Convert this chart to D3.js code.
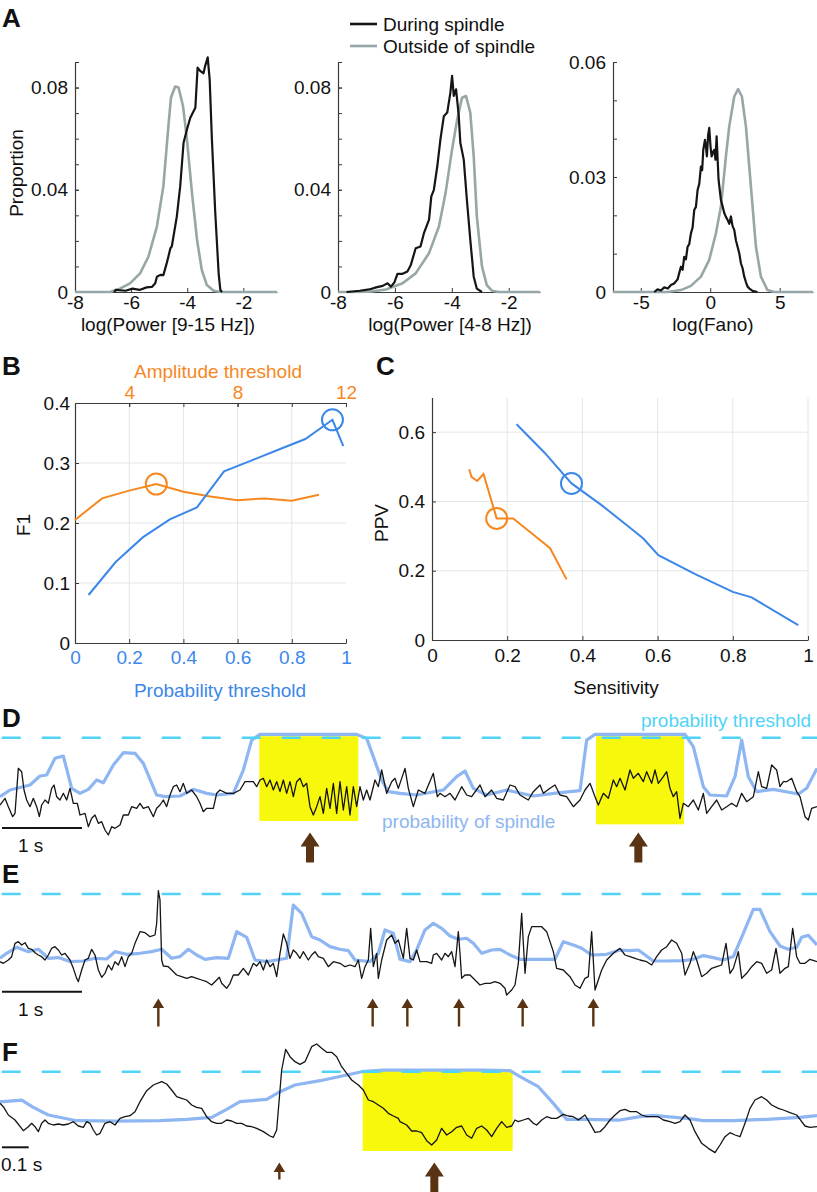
<!DOCTYPE html>
<html>
<head>
<meta charset="utf-8">
<script src="https://cdn.jsdelivr.net/npm/d3@7"></script>
<style>
  body { margin: 0; background: #fff; }
  svg { display: block; }
  text { font-family: 'Liberation Sans', Arial, Helvetica, sans-serif; }
</style>
</head>
<body>
<svg id="fig" width="817" height="1192"></svg>
<script>
// ---------- data: panel A histograms [log value, proportion] ----------
var powSpindleDuring = [[-6.6,0],[-6.55,0.0008],[-6.2,0.0005],[-5.95,0.0013],[-5.7,0.0008],[-5.45,0.0018],[-5.26,0.002],[-5.14,0.0034],[-5.08,0.006],[-4.96,0.0067],[-4.85,0.0066],[-4.73,0.0113],[-4.67,0.0139],[-4.6,0.0171],[-4.55,0.0178],[-4.49,0.0217],[-4.37,0.0296],[-4.25,0.0414],[-4.13,0.0584],[-4.01,0.0636],[-3.89,0.0682],[-3.71,0.0721],[-3.63,0.0878],[-3.54,0.0865],[-3.42,0.0856],[-3.36,0.0885],[-3.27,0.0918],[-3.2,0.0832],[-3.12,0.0597],[-3.0,0.0309],[-2.88,0.0073],[-2.82,0.0008],[-2.76,0]];
var powSpindleOutside = [[-8,0],[-6.75,0],[-6.4,0.0013],[-6.04,0.0034],[-5.68,0.0073],[-5.38,0.0139],[-5.08,0.0257],[-4.85,0.0414],[-4.67,0.065],[-4.58,0.076],[-4.43,0.0804],[-4.31,0.080],[-4.15,0.0728],[-4.01,0.0597],[-3.83,0.0387],[-3.65,0.0204],[-3.48,0.0086],[-3.3,0.0027],[-3.06,0.0005],[-2.8,0],[-0.8,0]];

var powThetaDuring = [[-7.7,0],[-7.59,0.0001],[-7.24,0.0005],[-6.9,0.001],[-6.66,0.0018],[-6.43,0.0024],[-6.26,0.0034],[-6.14,0.0021],[-6.02,0.0037],[-5.91,0.0071],[-5.73,0.0071],[-5.56,0.008],[-5.44,0.0106],[-5.27,0.0171],[-5.1,0.0178],[-4.98,0.023],[-4.8,0.0283],[-4.72,0.0374],[-4.63,0.04],[-4.51,0.0492],[-4.4,0.0597],[-4.28,0.0688],[-4.16,0.0702],[-4.05,0.078],[-3.99,0.0846],[-3.93,0.0767],[-3.85,0.0793],[-3.76,0.0695],[-3.7,0.0584],[-3.58,0.0518],[-3.47,0.0361],[-3.35,0.0204],[-3.23,0.006],[-3.12,0.0013],[-2.94,0]];
var powThetaOutside = [[-8,0],[-6.9,0.0001],[-6.31,0.001],[-5.73,0.0034],[-5.27,0.0073],[-4.8,0.0152],[-4.45,0.0257],[-4.22,0.0387],[-3.99,0.0558],[-3.81,0.0675],[-3.64,0.076],[-3.5,0.0767],[-3.35,0.0702],[-3.23,0.0531],[-3.12,0.0296],[-2.94,0.01],[-2.77,0.0027],[-2.59,0.0005],[-2.35,0],[-0.9,0]];

var fanoDuring = [[-4.03,0],[-3.79,0.0007],[-3.55,0.0004],[-3.31,0.0012],[-3.05,0.0009],[-2.83,0.0018],[-2.6,0.0022],[-2.35,0.0033],[-2.11,0.0066],[-1.99,0.0058],[-1.87,0.0092],[-1.75,0.0085],[-1.63,0.0118],[-1.51,0.0125],[-1.39,0.0153],[-1.27,0.0168],[-1.15,0.0214],[-1.03,0.0222],[-0.91,0.0266],[-0.79,0.0282],[-0.67,0.0327],[-0.58,0.0318],[-0.5,0.0371],[-0.38,0.0397],[-0.3,0.0376],[-0.24,0.0354],[-0.15,0.041],[-0.07,0.0428],[0.02,0.038],[0.1,0.0354],[0.2,0.0365],[0.29,0.0371],[0.38,0.0345],[0.46,0.0406],[0.6,0.0293],[0.77,0.024],[0.9,0.0222],[1.01,0.0206],[1.13,0.0196],[1.25,0.0188],[1.37,0.0178],[1.49,0.0197],[1.61,0.0172],[1.73,0.0162],[1.85,0.0135],[1.97,0.0118],[2.09,0.0101],[2.21,0.0075],[2.33,0.0062],[2.45,0.004],[2.57,0.0026],[2.69,0.0014],[2.85,0.0008],[3.05,0.0003],[3.4,0]];
var fanoOutside = [[-7,0],[-3.07,0],[-2.11,0.0005],[-1.39,0.0016],[-0.67,0.004],[-0.07,0.0084],[0.41,0.0153],[0.77,0.0223],[1.13,0.0354],[1.37,0.0432],[1.73,0.051],[2.01,0.0529],[2.28,0.051],[2.57,0.0432],[2.93,0.0275],[3.29,0.0118],[3.65,0.004],[4.12,0.0005],[4.6,0],[7.4,0]];

// ---------- data: panel B ----------
var ampThresholds = [2, 3, 4, 5, 6, 7, 8, 9, 10, 11];
var ampF1 = [0.205, 0.241, 0.254, 0.265, 0.252, 0.244, 0.238, 0.241, 0.237, 0.247];
var probThresholds = [0.05, 0.15, 0.25, 0.35, 0.45, 0.55, 0.65, 0.75, 0.85, 0.95, 0.99];
var probF1 = [0.08, 0.135, 0.176, 0.206, 0.226, 0.286, 0.304, 0.322, 0.34, 0.372, 0.328];
var ampBest = 3, probBest = 9;

// ---------- data: panel C ----------
var ampSens = [0.099, 0.105, 0.12, 0.137, 0.172, 0.216, 0.265, 0.314, 0.358];
var ampPPV = [0.493, 0.471, 0.459, 0.479, 0.351, 0.351, 0.308, 0.265, 0.175];
var probSens = [0.225, 0.30, 0.371, 0.45, 0.52, 0.562, 0.602, 0.70, 0.80, 0.85, 0.974];
var probPPV = [0.623, 0.54, 0.452, 0.39, 0.33, 0.293, 0.245, 0.19, 0.139, 0.123, 0.043];
var ampBestC = 4, probBestC = 2;

// ---------- data: example traces, [sample, value] ----------
var FS_LONG = 240, FS_SHORT = 800, N_SAMPLES = 2451, PROB_THR = 0.9;

var eegD = [[0,-15],[15,5],[25,-20],[38,-50],[45,-40],[55,95],[65,85],[72,30],[80,0],[90,-20],[100,5],[110,-20],[118,-50],[125,-15],[135,0],[145,-10],[155,35],[162,45],[170,10],[180,0],[190,20],[200,0],[210,35],[220,-10],[232,-10],[240,-45],[255,-40],[265,-80],[275,-55],[285,-45],[295,-70],[305,-65],[315,-90],[325,-105],[335,-80],[345,-85],[360,-75],[370,-45],[385,-45],[395,-20],[410,-25],[420,-10],[430,-25],[445,-20],[460,-50],[470,-25],[480,-15],[490,0],[500,-20],[510,15],[520,40],[530,45],[540,25],[550,50],[560,20],[575,30],[590,10],[600,-10],[610,-35],[620,-25],[640,-25],[650,20],[660,30],[680,20],[700,20],[720,30],[735,55],[760,55],[770,40],[780,60],[790,65],[800,40],[810,60],[820,30],[830,55],[840,25],[850,60],[860,20],[870,55],[880,10],[890,55],[900,65],[910,40],[920,50],[930,-20],[940,-45],[950,-20],[960,10],[970,-40],[980,35],[990,-25],[1000,50],[1010,-40],[1020,55],[1030,-30],[1040,40],[1050,-45],[1060,40],[1070,-20],[1080,40],[1090,0],[1100,30],[1110,0],[1125,60],[1135,40],[1145,90],[1160,20],[1175,55],[1185,65],[1195,35],[1215,95],[1225,35],[1240,-20],[1255,30],[1275,20],[1300,80],[1312,10],[1320,20],[1335,10],[1350,20],[1365,0],[1385,40],[1400,15],[1415,10],[1440,45],[1455,10],[1475,30],[1490,5],[1510,0],[1530,45],[1545,40],[1560,15],[1585,0],[1600,25],[1620,45],[1630,20],[1650,35],[1665,45],[1680,15],[1700,10],[1720,-20],[1740,0],[1755,30],[1770,50],[1785,10],[1795,-15],[1810,20],[1825,5],[1840,60],[1850,40],[1860,65],[1875,30],[1890,90],[1900,65],[1915,80],[1930,55],[1940,85],[1955,50],[1965,90],[1975,50],[1990,70],[2000,85],[2010,35],[2020,10],[2030,25],[2040,-55],[2050,-10],[2065,-20],[2080,0],[2095,-30],[2110,20],[2120,-40],[2135,-20],[2150,0],[2165,-30],[2180,-20],[2195,-10],[2210,-20],[2225,20],[2240,-5],[2260,10],[2275,85],[2285,40],[2300,35],[2315,105],[2330,90],[2340,40],[2350,55],[2360,55],[2375,65],[2390,25],[2400,10],[2415,-50],[2425,-60],[2435,-25],[2451,-20]];
var probD = [[0,0.048],[30,0.144],[90,0.217],[120,0.347],[140,0.361],[165,0.602],[190,0.635],[215,0.168],[240,0.096],[265,0.154],[290,0.289],[310,0.250],[340,0.505],[370,0.683],[405,0.674],[430,0.529],[470,0.072],[495,0.048],[540,0.058],[580,0.154],[620,0.096],[650,0.072],[700,0.096],[730,0.433],[755,0.866],[780,0.948],[1070,0.948],[1100,0.890],[1120,0.626],[1145,0.289],[1165,0.120],[1200,0.096],[1250,0.072],[1330,0.144],[1370,0.337],[1395,0.419],[1420,0.168],[1460,0.072],[1520,0.144],[1600,0.058],[1680,0.106],[1740,0.135],[1760,0.866],[1785,0.948],[2055,0.948],[2080,0.770],[2110,0.193],[2130,0.072],[2180,0.058],[2205,0.337],[2225,0.866],[2245,0.337],[2270,0.120],[2320,0.154],[2395,0.087],[2420,0.169],[2451,0.457]];
var spindlesD = [[778,1075],[1788,2052]];
var arrowsD = [930,1915];

var eegE = [[0,-5],[10,-10],[25,0],[35,10],[45,50],[55,55],[65,45],[75,52],[85,35],[95,32],[105,22],[115,15],[125,10],[135,0],[145,15],[155,35],[165,40],[175,30],[185,15],[195,20],[210,0],[220,-25],[230,-55],[235,-65],[245,-30],[255,0],[265,5],[275,32],[285,15],[295,-30],[305,-52],[315,-40],[325,-15],[335,-30],[345,-5],[355,-15],[365,10],[375,-20],[385,10],[395,20],[405,50],[420,85],[435,82],[450,70],[465,75],[470,110],[475,208],[480,180],[485,0],[490,-18],[505,-20],[515,-30],[530,-45],[545,-50],[560,-55],[575,-50],[590,-55],[605,-60],[620,-65],[635,-75],[650,-60],[658,-52],[665,-70],[680,-85],[690,-70],[700,-45],[715,-45],[730,-25],[745,-45],[760,-10],[770,-18],[780,-5],[790,-30],[800,0],[810,-20],[820,-10],[830,-50],[840,20],[850,78],[860,50],[870,5],[880,30],[890,20],[900,5],[910,25],[925,0],[935,15],[945,25],[955,10],[970,5],[985,-20],[1000,-5],[1020,-10],[1035,-20],[1050,-15],[1065,-20],[1075,0],[1085,-55],[1095,-20],[1105,0],[1112,95],[1120,-20],[1130,20],[1135,-55],[1145,0],[1160,60],[1175,75],[1185,50],[1195,60],[1210,5],[1220,95],[1230,5],[1240,0],[1250,30],[1260,-5],[1280,-5],[1295,-10],[1300,15],[1310,20],[1325,0],[1335,20],[1345,10],[1355,25],[1365,-20],[1375,85],[1380,20],[1385,-55],[1395,-45],[1410,-45],[1425,-60],[1440,-75],[1455,-70],[1470,-70],[1485,-65],[1500,-70],[1515,-85],[1520,-105],[1535,-90],[1545,-75],[1555,-10],[1565,140],[1575,-40],[1585,70],[1595,100],[1610,100],[1625,100],[1640,85],[1650,55],[1660,25],[1670,-25],[1690,-30],[1710,-50],[1725,-75],[1740,-85],[1755,-55],[1765,-50],[1775,85],[1785,-90],[1795,-60],[1805,-30],[1820,0],[1840,20],[1860,35],[1875,15],[1890,10],[1905,5],[1920,0],[1940,-5],[1955,-15],[1970,10],[1985,30],[2000,40],[2015,60],[2030,50],[2045,20],[2055,-45],[2070,-10],[2080,25],[2090,0],[2105,-50],[2120,-40],[2135,-25],[2150,-20],[2165,-15],[2178,50],[2190,-40],[2200,-25],[2215,25],[2225,-55],[2240,-40],[2255,-20],[2270,-5],[2285,-10],[2300,-40],[2315,-30],[2328,35],[2340,-40],[2355,-25],[2365,-20],[2378,95],[2390,10],[2400,-10],[2415,-10],[2430,2],[2451,-5]];
var probE = [[0,0.065],[20,0.130],[50,0.208],[85,0.151],[115,0.182],[145,0.065],[175,0.074],[210,0.022],[250,0.030],[285,0.065],[320,0.056],[345,0.151],[380,0.117],[420,0.130],[455,0.151],[485,0.182],[515,0.065],[540,0.087],[565,0.182],[590,0.108],[615,0.052],[650,0.074],[685,0.065],[710,0.411],[740,0.338],[765,0.043],[800,0.022],[830,0.043],[860,0.065],[880,0.757],[905,0.649],[935,0.346],[960,0.303],[990,0.216],[1020,0.182],[1045,0.164],[1065,0.043],[1110,0.022],[1135,0.130],[1155,0.433],[1180,0.389],[1200,0.052],[1230,0.022],[1250,0.173],[1275,0.433],[1300,0.519],[1325,0.454],[1350,0.355],[1375,0.312],[1400,0.325],[1420,0.260],[1445,0.130],[1475,0.173],[1500,0.182],[1530,0.108],[1560,0.052],[1600,0.052],[1665,0.052],[1690,0.281],[1720,0.238],[1745,0.195],[1775,0.108],[1820,0.117],[1860,0.173],[1890,0.164],[1915,0.173],[1960,0.030],[2000,0.030],[2050,0.035],[2080,0.052],[2110,0.100],[2140,0.074],[2170,0.043],[2200,0.087],[2230,0.389],[2260,0.701],[2280,0.701],[2310,0.411],[2340,0.225],[2365,0.182],[2390,0.208],[2405,0.338],[2425,0.363],[2451,0.238]];
var arrowsE = [475,1118,1222,1377,1568,1780];

var eegF = [[0,50],[10,40],[25,15],[45,0],[70,-32],[85,-20],[95,-10],[105,-20],[115,-35],[125,-10],[135,0],[145,-10],[160,-15],[175,-12],[190,-15],[205,-12],[220,-5],[235,-18],[250,-22],[260,-5],[270,-10],[280,-30],[290,-45],[300,-40],[315,-10],[330,-5],[345,-15],[360,5],[375,10],[390,13],[405,25],[420,55],[440,88],[460,105],[485,115],[500,108],[515,90],[530,70],[545,65],[560,60],[575,45],[590,38],[605,35],[620,10],[635,-5],[650,-10],[665,-10],[680,0],[695,-3],[710,-10],[725,-10],[740,-18],[755,-20],[770,-25],[790,-35],[810,-48],[820,-52],[830,-30],[845,150],[857,212],[870,190],[885,175],[900,167],[915,175],[935,220],[950,228],[965,215],[980,203],[995,203],[1010,190],[1025,160],[1040,140],[1055,120],[1075,105],[1090,90],[1105,60],[1120,55],[1135,45],[1150,35],[1165,20],[1180,12],[1195,5],[1200,-5],[1220,-15],[1235,-33],[1250,-33],[1265,-38],[1280,-62],[1295,-75],[1310,-60],[1325,-25],[1340,-45],[1355,-35],[1370,-22],[1385,-18],[1400,-45],[1415,-55],[1430,-25],[1445,-18],[1460,-30],[1475,-50],[1490,-25],[1505,-5],[1520,-22],[1535,-18],[1545,0],[1555,-5],[1570,0],[1585,5],[1600,-10],[1610,-15],[1625,0],[1640,10],[1655,5],[1670,5],[1690,17],[1705,12],[1720,10],[1735,0],[1755,15],[1770,-10],[1785,-37],[1800,-35],[1815,-20],[1830,0],[1845,15],[1860,28],[1875,32],[1890,25],[1910,25],[1925,15],[1940,10],[1960,10],[1975,10],[1990,0],[2010,-5],[2025,-10],[2040,-5],[2055,15],[2070,0],[2085,-35],[2105,-70],[2125,-85],[2145,-98],[2160,-75],[2175,-50],[2190,-38],[2205,-45],[2220,-50],[2235,-10],[2250,35],[2265,60],[2285,70],[2300,60],[2315,45],[2335,35],[2350,30],[2370,22],[2390,15],[2400,2],[2415,-18],[2430,-22],[2451,-20]];
var probF = [[0,0.36],[10,0.36],[65,0.39],[100,0.258],[145,0.12],[230,0.018],[350,0.012],[480,0.018],[560,0.042],[635,0.078],[680,0.222],[720,0.36],[800,0.402],[840,0.54],[885,0.66],[960,0.738],[1040,0.84],[1085,0.9],[1150,0.93],[1300,0.93],[1450,0.93],[1530,0.918],[1560,0.81],[1615,0.63],[1660,0.33],[1700,0.042],[1760,0.042],[1860,0.03],[1920,0.09],[1960,0.114],[2000,0.09],[2060,0.06],[2110,0.018],[2200,0.018],[2300,0.042],[2400,0.078],[2451,0.108]];
var spindlesF = [[1088,1538]];
var arrowsFsmall = [838];
var arrowsFbig = [1303];

// ---------- colours ----------
var BLACK = "#151515", GREY = "#97a6a7", ORANGE = "#f7881f", BLUE = "#3b87ea",
    PROB = "#8db6f2", CYAN = "#4fd3f7", YELLOW = "#f8f80d", BROWN = "#5a3412",
    AXIS = "#3a3a3a", GRID = "#e3e6e6";

var svg = d3.select("#fig");
svg.append("rect").attr("width", 817).attr("height", 1192).attr("fill", "#fff");

function letter(t, x, y) {
  svg.append("text").attr("x", x).attr("y", y).attr("font-size", 26)
    .attr("font-weight", "bold").attr("fill", "#111").text(t);
}

function styleAxis(g, color) {
  g.select(".domain").attr("stroke", AXIS).attr("stroke-width", 1.2);
  g.selectAll(".tick line").attr("stroke", AXIS);
  g.selectAll(".tick text").attr("font-size", 19).attr("fill", color || "#111")
    .attr("font-family", "'Liberation Sans', Arial, sans-serif");
}

// ---------- panel A ----------
var A_TOP = 62, A_BOTTOM = 292;
function histPanel(o) {
  var x = d3.scaleLinear().domain(o.xDomain).range([o.left, o.right]);
  var y = d3.scaleLinear().domain(o.yDomain).range([A_BOTTOM, A_TOP]);
  var g = svg.append("g");

  var ya = g.append("g").attr("transform", "translate(" + o.left + ",0)")
    .call(d3.axisLeft(y).tickValues(o.yTicks).tickFormat(d3.format("")).tickSize(-4).tickSizeOuter(0).tickPadding(7));
  styleAxis(ya);
  var ym = g.append("g").attr("transform", "translate(" + o.left + ",0)")
    .call(d3.axisLeft(y).tickValues(d3.range(0, o.yDomain[1] + 1e-9, 0.01)).tickFormat("").tickSize(-4).tickSizeOuter(0));
  ym.select(".domain").remove();
  ym.selectAll(".tick line").attr("stroke", AXIS);

  var xa = g.append("g").attr("transform", "translate(0," + A_BOTTOM + ")")
    .call(d3.axisBottom(x).tickValues(o.xTicks).tickFormat(d3.format("")).tickSize(-4).tickSizeOuter(0).tickPadding(3));
  styleAxis(xa);
  xa.selectAll(".tick text").text(function (d) { return String(d); });

  var line = d3.line().x(function (d) { return x(d[0]); }).y(function (d) { return y(d[1]); });
  g.append("path").datum(o.outside).attr("d", line).attr("fill", "none")
    .attr("stroke", GREY).attr("stroke-width", 2.6).attr("stroke-linejoin", "round");
  g.append("path").datum(o.during).attr("d", line).attr("fill", "none")
    .attr("stroke", BLACK).attr("stroke-width", 2.2).attr("stroke-linejoin", "round");

  g.append("text").attr("x", o.labelX).attr("y", 331).attr("text-anchor", "middle")
    .attr("font-size", 19).attr("fill", "#111").text(o.label);
}

histPanel({ xDomain: [-8, -0.8], left: 75, right: 277, yDomain: [0, 0.09],
  yTicks: [0, 0.04, 0.08], xTicks: [-8, -6, -4, -2],
  during: powSpindleDuring, outside: powSpindleOutside,
  label: "log(Power [9-15 Hz])", labelX: 168 });
histPanel({ xDomain: [-8, -0.9], left: 338, right: 540, yDomain: [0, 0.09],
  yTicks: [0, 0.04, 0.08], xTicks: [-8, -6, -4, -2],
  during: powThetaDuring, outside: powThetaOutside,
  label: "log(Power [4-8 Hz])", labelX: 450 });
histPanel({ xDomain: [-7, 7.4], left: 613, right: 813, yDomain: [0, 0.06],
  yTicks: [0, 0.03, 0.06], xTicks: [-5, 0, 5],
  during: fanoDuring, outside: fanoOutside,
  label: "log(Fano)", labelX: 713 });

svg.append("text").attr("transform", "translate(23,173) rotate(-90)")
  .attr("text-anchor", "middle").attr("font-size", 19).attr("fill", "#111").text("Proportion");

// legend
[["During spindle", BLACK, 24], ["Outside of spindle", GREY, 46]].forEach(function (l) {
  svg.append("line").attr("x1", 350).attr("x2", 377).attr("y1", l[2]).attr("y2", l[2])
    .attr("stroke", l[1]).attr("stroke-width", 2.6);
  svg.append("text").attr("x", 383).attr("y", l[2] + 7).attr("font-size", 19)
    .attr("fill", "#111").text(l[0]);
});
letter("A", 2, 27);

// ---------- panel B ----------
(function () {
  var x = d3.scaleLinear().domain([0, 1]).range([75, 346]);
  var xAmp = d3.scaleLinear().domain([2, 12]).range([75, 346]);
  var y = d3.scaleLinear().domain([0, 0.4]).range([643, 403]);
  var g = svg.append("g");

  g.selectAll(".gx").data([0.2, 0.4, 0.6, 0.8]).enter().append("line")
    .attr("x1", x).attr("x2", x).attr("y1", y(0)).attr("y2", y(0.4))
    .attr("stroke", GRID).attr("stroke-width", 1);
  g.selectAll(".gy").data([0.1, 0.2, 0.3]).enter().append("line")
    .attr("x1", x(0)).attr("x2", x(1)).attr("y1", y).attr("y2", y)
    .attr("stroke", GRID).attr("stroke-width", 1);

  var yl = g.append("g").attr("transform", "translate(75,0)")
    .call(d3.axisLeft(y).tickValues([0, 0.1, 0.2, 0.3, 0.4]).tickFormat(d3.format("")).tickSize(-4).tickSizeOuter(0).tickPadding(5));
  styleAxis(yl);
  var xb = g.append("g").attr("transform", "translate(0,643)")
    .call(d3.axisBottom(x).tickValues([0, 0.2, 0.4, 0.6, 0.8, 1]).tickFormat(d3.format("")).tickSize(-4).tickSizeOuter(0).tickPadding(8));
  styleAxis(xb, BLUE);
  var xt = g.append("g").attr("transform", "translate(0,403)")
    .call(d3.axisTop(xAmp).tickValues([4, 8, 12]).tickSize(-4).tickSizeOuter(0).tickPadding(4));
  styleAxis(xt, ORANGE);
  var xt2 = g.append("g").attr("transform", "translate(0,403)")
    .call(d3.axisTop(x).tickValues([0.2, 0.4, 0.6, 0.8, 1]).tickFormat("").tickSize(-4).tickSizeOuter(0));
  xt2.select(".domain").remove();
  xt2.selectAll(".tick line").attr("stroke", AXIS);

  var ampPts = ampThresholds.map(function (a, i) { return [xAmp(a), y(ampF1[i])]; });
  var probPts = probThresholds.map(function (p, i) { return [x(p), y(probF1[i])]; });
  var line = d3.line();
  g.append("path").attr("d", line(ampPts)).attr("fill", "none").attr("stroke", ORANGE).attr("stroke-width", 2);
  g.append("path").attr("d", line(probPts)).attr("fill", "none").attr("stroke", BLUE).attr("stroke-width", 2);
  g.append("circle").attr("cx", ampPts[ampBest][0]).attr("cy", ampPts[ampBest][1]).attr("r", 10.5)
    .attr("fill", "none").attr("stroke", ORANGE).attr("stroke-width", 2);
  g.append("circle").attr("cx", probPts[probBest][0]).attr("cy", probPts[probBest][1]).attr("r", 10.5)
    .attr("fill", "none").attr("stroke", BLUE).attr("stroke-width", 2);

  g.append("text").attr("x", 218).attr("y", 378).attr("text-anchor", "middle")
    .attr("font-size", 19).attr("fill", ORANGE).text("Amplitude threshold");
  g.append("text").attr("x", 220).attr("y", 697).attr("text-anchor", "middle")
    .attr("font-size", 19).attr("fill", BLUE).text("Probability threshold");
  g.append("text").attr("transform", "translate(30,525) rotate(-90)").attr("text-anchor", "middle")
    .attr("font-size", 19).attr("fill", "#111").text("F1");
})();
letter("B", 2, 375);

// ---------- panel C ----------
(function () {
  var x = d3.scaleLinear().domain([0, 1]).range([432, 808]);
  var y = d3.scaleLinear().domain([0, 0.7]).range([640, 397.5]);
  var g = svg.append("g");

  g.selectAll(".gx").data([0.2, 0.4, 0.6, 0.8, 1]).enter().append("line")
    .attr("x1", x).attr("x2", x).attr("y1", y(0)).attr("y2", y(0.7))
    .attr("stroke", GRID).attr("stroke-width", 1);
  g.selectAll(".gy").data([0.2, 0.4, 0.6]).enter().append("line")
    .attr("x1", x(0)).attr("x2", x(1)).attr("y1", y).attr("y2", y)
    .attr("stroke", GRID).attr("stroke-width", 1);

  var yl = g.append("g").attr("transform", "translate(432,0)")
    .call(d3.axisLeft(y).tickValues([0, 0.2, 0.4, 0.6]).tickFormat(d3.format("")).tickSize(-4).tickSizeOuter(0).tickPadding(7));
  styleAxis(yl);
  var xb = g.append("g").attr("transform", "translate(0,640)")
    .call(d3.axisBottom(x).tickValues([0, 0.2, 0.4, 0.6, 0.8, 1]).tickFormat(d3.format("")).tickSize(-4).tickSizeOuter(0).tickPadding(9));
  styleAxis(xb);

  var ampPts = ampSens.map(function (s, i) { return [x(s), y(ampPPV[i])]; });
  var probPts = probSens.map(function (s, i) { return [x(s), y(probPPV[i])]; });
  var line = d3.line();
  g.append("path").attr("d", line(ampPts)).attr("fill", "none").attr("stroke", ORANGE).attr("stroke-width", 2);
  g.append("path").attr("d", line(probPts)).attr("fill", "none").attr("stroke", BLUE).attr("stroke-width", 2);
  g.append("circle").attr("cx", ampPts[ampBestC][0]).attr("cy", ampPts[ampBestC][1]).attr("r", 10.5)
    .attr("fill", "none").attr("stroke", ORANGE).attr("stroke-width", 2);
  g.append("circle").attr("cx", probPts[probBestC][0]).attr("cy", probPts[probBestC][1]).attr("r", 10.5)
    .attr("fill", "none").attr("stroke", BLUE).attr("stroke-width", 2);

  g.append("text").attr("x", 616).attr("y", 694).attr("text-anchor", "middle")
    .attr("font-size", 19).attr("fill", "#111").text("Sensitivity");
  g.append("text").attr("transform", "translate(388,523) rotate(-90)").attr("text-anchor", "middle")
    .attr("font-size", 19).attr("fill", "#111").text("PPV");
})();
letter("C", 376, 375);

// ---------- panels D-F: traces ----------
function arrow(g, cx, tip, headW, headH, shaftW, len) {
  var p = d3.path();
  p.moveTo(cx, tip);
  p.lineTo(cx + headW / 2, tip + headH);
  p.lineTo(cx + shaftW / 2, tip + headH);
  p.lineTo(cx + shaftW / 2, tip + len);
  p.lineTo(cx - shaftW / 2, tip + len);
  p.lineTo(cx - shaftW / 2, tip + headH);
  p.lineTo(cx - headW / 2, tip + headH);
  p.closePath();
  g.append("path").attr("d", p.toString()).attr("fill", BROWN);
}

function tracePanel(o) {
  var g = svg.append("g");
  var x = d3.scaleLinear().domain([0, N_SAMPLES / o.fs]).range([0, 817]);
  var yV = d3.scaleLinear().domain([-150, 150]).range([o.zero + 50, o.zero - 50]);
  var yP = d3.scaleLinear().domain([0, PROB_THR]).range([o.p0, o.pThr]);
  var t = function (s) { return x(s / o.fs); };

  (o.spindles || []).forEach(function (sp) {
    var seg = o.eeg.filter(function (d) { return d[0] >= sp[0] && d[0] <= sp[1]; });
    var lo = d3.min(seg, function (d) { return d[1]; });
    g.append("rect").attr("x", t(sp[0])).attr("width", t(sp[1]) - t(sp[0]))
      .attr("y", yP(PROB_THR) - 1.5).attr("height", yV(lo) + 6 - yP(PROB_THR) + 1.5)
      .attr("fill", YELLOW);
  });

  g.append("path").datum(o.prob)
    .attr("d", d3.line().x(function (d) { return t(d[0]); }).y(function (d) { return yP(d[1]); }))
    .attr("fill", "none").attr("stroke", PROB).attr("stroke-width", 3.2).attr("stroke-linejoin", "round");

  g.append("line").attr("x1", 0).attr("x2", 817).attr("y1", yP(PROB_THR)).attr("y2", yP(PROB_THR))
    .attr("stroke", CYAN).attr("stroke-width", 2.6).attr("stroke-dasharray", "19,21")
    .attr("stroke-dashoffset", -1.7);

  g.append("path").datum(o.eeg)
    .attr("d", d3.line().x(function (d) { return t(d[0]); }).y(function (d) { return yV(d[1]); }))
    .attr("fill", "none").attr("stroke", BLACK).attr("stroke-width", 1.3).attr("stroke-linejoin", "round");

  // scale bar
  g.append("line").attr("x1", x(0) + 2).attr("x2", x(o.bar) + 2).attr("y1", o.barY).attr("y2", o.barY)
    .attr("stroke", BLACK).attr("stroke-width", 2);
  g.append("text").attr("x", o.barTextX).attr("y", o.barY + 24).attr("font-size", 19)
    .attr("fill", "#111").text(o.barLabel);

  (o.bigArrows || []).forEach(function (s) { arrow(g, t(s), o.bigTip, 19, 14, 8, 30); });
  (o.smallArrows || []).forEach(function (s) { arrow(g, t(s), o.smallTip, 11.5, 9.5, 2.4, o.smallLen); });
}

tracePanel({ fs: FS_LONG, eeg: eegD, prob: probD, spindles: spindlesD,
  zero: 800, p0: 800, pThr: 737.7, bar: 1, barY: 828, barLabel: "1 s", barTextX: 18,
  bigArrows: arrowsD, bigTip: 832.5 });
tracePanel({ fs: FS_LONG, eeg: eegE, prob: probE,
  zero: 960, p0: 963.3, pThr: 894, bar: 1, barY: 991.7, barLabel: "1 s", barTextX: 18,
  smallArrows: arrowsE, smallTip: 998.5, smallLen: 28 });
tracePanel({ fs: FS_SHORT, eeg: eegF, prob: probF, spindles: spindlesF,
  zero: 1120, p0: 1121.7, pThr: 1071.7, bar: 0.1, barY: 1147.3, barLabel: "0.1 s", barTextX: 1,
  bigArrows: arrowsFbig, bigTip: 1162.5, smallArrows: arrowsFsmall, smallTip: 1162.5, smallLen: 17 });

svg.append("text").attr("x", 811).attr("y", 727).attr("text-anchor", "end")
  .attr("font-size", 19).attr("fill", CYAN).text("probability threshold");
svg.append("text").attr("x", 382).attr("y", 828).attr("font-size", 19)
  .attr("fill", PROB).text("probability of spindle");

letter("D", 2, 727);
letter("E", 2, 883);
letter("F", 2, 1061);
</script>
</body>
</html>
